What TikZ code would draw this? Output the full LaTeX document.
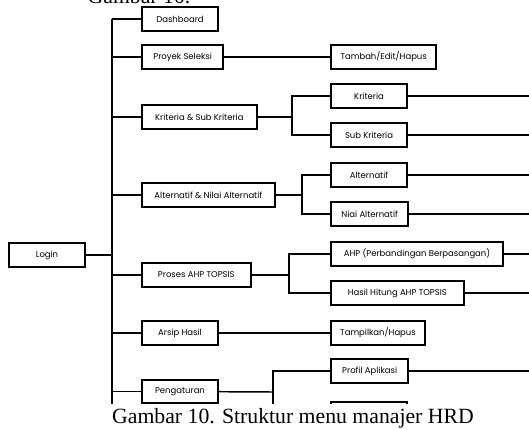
\documentclass[tikz,border=0pt]{standalone}
\usepackage{fontspec}
\setmainfont{Liberation Serif}
\newfontfamily\boxfont{Poppins}
\begin{document}
\begin{tikzpicture}[x=0.75pt, y=-0.75pt, line width=1.1pt,
  every node/.style={font=\boxfont\fontsize{6.35}{7}\selectfont},
  menubox/.style={draw, line width=1.5pt, anchor=west, minimum width=57pt,
    minimum height=17.5pt, inner xsep=4pt, inner ysep=0pt},
  captext/.style={font=\rmfamily\fontsize{16.3}{18}\selectfont, inner sep=0pt}]
  \useasboundingbox (0,0) rectangle (529,429);
  % trunk and branch points
  \coordinate (tTop) at (112,19); \coordinate (tBot) at (112,416);
  \coordinate (kskB) at (292,117); \coordinate (altB) at (302,195);
  \coordinate (prsB) at (289,275); \coordinate (pgtB) at (273,392);
  % first level
  \node[menubox] (login) at (8,255) {Login};
  \node[menubox] (dash) at (141,19) {Dashboard};
  \node[menubox, minimum width=61pt] (proy) at (141,57) {Proyek Seleksi};
  \node[menubox, minimum width=86pt] (ksk) at (141,117) {Kriteria \& Sub Kriteria};
  \node[menubox, minimum width=99.5pt] (alt) at (141,195) {Alternatif \& Nilai Alternatif};
  \node[menubox, minimum width=81.5pt] (prs) at (141,275) {Proses AHP TOPSIS};
  \node[menubox] (arsip) at (141,333) {Arsip Hasil};
  \node[menubox] (pgt) at (141,391.5) {Pengaturan};
  % second level
  \node[menubox, minimum width=79pt] (tambah) at (330,57) {Tambah/Edit/Hapus};
  \node[menubox] (krit) at (330,96) {Kriteria};
  \node[menubox] (subk) at (330,135) {Sub Kriteria};
  \node[menubox] (altr) at (330,175) {Alternatif};
  \node[menubox, minimum width=58pt] (nilai) at (330,214) {Niai Alternatif};
  \node[menubox, minimum width=129pt] (ahp) at (330,254) {AHP (Perbandingan Berpasangan)};
  \node[menubox, minimum width=99.5pt] (hasil) at (330,293) {Hasil Hitung AHP TOPSIS};
  \node[menubox, minimum width=70.5pt] (tampil) at (330,333) {Tampilkan/Hapus};
  \node[menubox, minimum width=58pt] (prof) at (330,371) {Profil Aplikasi};
  \node[menubox] (extra) at (330,414) {};
  % free ends at the right edge
  \coordinate (kritE) at (530,96); \coordinate (subkE) at (530,135);
  \coordinate (altrE) at (530,175); \coordinate (nilaiE) at (530,214);
  \coordinate (ahpE) at (530,254); \coordinate (hasilE) at (530,293);
  \coordinate (profE) at (530,371); \coordinate (extraE) at (530,414);
  % connectors
  \draw (tTop) -- (tBot);
  \draw (login.east) -- (login.east -| tTop);
  \foreach \n in {dash,proy,ksk,alt,prs,arsip,pgt}
    \draw (\n.west) -- (\n.west -| tTop);
  \draw (proy) -- (tambah);
  \draw (arsip) -- (tampil);
  \draw (ksk) -- (kskB); \draw (krit.west) -| (kskB) |- (subk.west);
  \draw (alt) -- (altB); \draw (altr.west) -| (altB) |- (nilai.west);
  \draw (prs) -- (prsB); \draw (ahp.west) -| (prsB) |- (hasil.west);
  \draw (pgt) -- (pgtB); \draw (prof.west) -| (pgtB) |- (extra.west);
  \foreach \n in {krit,subk,altr,nilai,ahp,hasil,prof,extra}
    \draw (\n.east) -- (\n E);
  % captions
  \fill[white] (0,404) rectangle (530,430);
  \node[captext, anchor=base west] (topcap) at (87,3.5) {Gambar 10.};
  \node[captext, anchor=base] (cap) at (293,423) {Gambar 10. Struktur menu manajer HRD};
\end{tikzpicture}
\end{document}
